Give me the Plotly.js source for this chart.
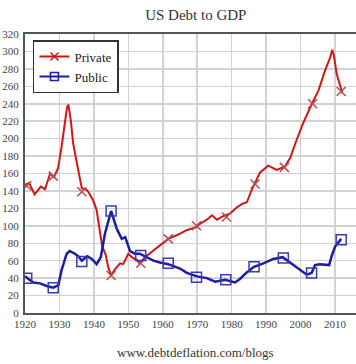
<!DOCTYPE html>
<html><head><meta charset="utf-8">
<script src="https://cdn.plot.ly/plotly-3.0.1.min.js"></script>
<style>html,body{margin:0;padding:0;background:#fff}</style>
</head><body>
<div id="chart" style="width:356px;height:364px"></div>
<script>
// Private debt to GDP (%)
var privateYears = [1920.0,1921.2,1922.8,1924.6,1925.8,1927.3,1928.4,1929.6,1930.6,1931.6,1932.2,1932.6,1933.3,1934.0,1935.2,1936.5,1937.6,1938.4,1939.8,1940.8,1941.8,1942.4,1943.4,1944.2,1945.0,1946.1,1947.6,1948.5,1950.0,1951.0,1952.3,1953.3,1954.8,1957.3,1959.5,1961.6,1964.5,1966.9,1969.5,1970.3,1972.8,1974.3,1975.7,1977.5,1979.5,1981.5,1983.0,1984.4,1985.7,1986.8,1988.2,1990.6,1993.1,1995.5,1997.0,1998.9,2000.8,2003.3,2005.2,2007.1,2008.6,2009.2,2009.7,2010.5,2011.5,2012.1];
var privateValues = [147,149,136,145,142,160,156,166,190,220,236,239,221,194,168,143,142,139,129,118,92,77,67,52,43,50,57,56,68,64,61,57,64,72,79,85,90,95,98,101,107,112,107,111,114,121,125,127,140,149,161,169,164,168,178,199,218,240,255,278,293,302,295,274,259,253];
var privateMarkerYears = [1920.5,1928.2,1936.5,1945.0,1953.6,1961.6,1969.8,1978.5,1986.8,1995.3,2003.5,2011.8];
var privateMarkerValues = [146,157,139,43,57,85,100,110,148,167,240,254];

// Public debt to GDP (%)
var publicYears = [1920.0,1921.4,1922.4,1924.4,1926.3,1928.2,1929.7,1930.6,1932.1,1933.0,1934.5,1935.5,1936.5,1937.4,1938.1,1939.4,1940.8,1942.0,1943.2,1945.0,1946.6,1948.1,1949.1,1950.5,1951.9,1953.3,1955.0,1957.3,1959.2,1961.6,1965.0,1967.0,1969.9,1972.8,1975.2,1978.1,1981.0,1982.4,1984.2,1986.5,1989.2,1992.1,1994.8,1996.9,1999.8,2001.8,2003.2,2004.2,2005.6,2008.3,2009.1,2010.0,2011.8];
var publicValues = [42,38,35,34,31,29,32,49,68,71,68,65,60,63,65,62,56,64,91,117,97,85,87,71,68,68,65,60,58,56,51,46,42,40,36,38,35,39,46,53,57,62,64,58,49,44,46,55,56,55,66,76,85];
var publicMarkerYears = [1920.5,1928.2,1936.5,1945.0,1953.6,1961.6,1969.8,1978.3,1986.5,1995.0,2003.2,2011.8];
var publicMarkerValues = [40,29,59,117,66,57,41,38,53,63,46,84];

var xTicks = [1920,1930,1940,1950,1960,1970,1980,1990,2000,2010];
var yTicks = [0,20,40,60,80,100,120,140,160,180,200,220,240,260,280,300,320];

var RED = '#d41515', BLUE = '#1c1ca8';
var serif = '"Liberation Serif", "Times New Roman", serif';

var traces = [
  {x: privateYears, y: privateValues, mode: 'lines', line: {color: RED, width: 2}, showlegend: false, hoverinfo: 'skip'},
  {x: privateMarkerYears, y: privateMarkerValues, mode: 'markers', marker: {symbol: 'x-thin', size: 9, line: {color: '#b05050', width: 1.5}}, showlegend: false},
  {x: publicYears, y: publicValues, mode: 'lines', line: {color: BLUE, width: 2.5}, showlegend: false, hoverinfo: 'skip'},
  {x: publicMarkerYears, y: publicMarkerValues, mode: 'markers', marker: {symbol: 'square-open', size: 10, color: '#3a3ab0', line: {width: 1.5}}, showlegend: false},
  {x: [null], y: [null], name: 'Private', mode: 'lines+markers', line: {color: RED, width: 2}, marker: {symbol: 'x-thin', size: 8, line: {color: RED, width: 1.5}}},
  {x: [null], y: [null], name: 'Public', mode: 'lines+markers', line: {color: BLUE, width: 2}, marker: {symbol: 'square-open', size: 8, color: BLUE, line: {width: 1.5}}}
];

var layout = {
  width: 356, height: 364,
  margin: {l: 25, r: 0, t: 34, b: 51, pad: 0},
  paper_bgcolor: '#fff', plot_bgcolor: '#fff',
  font: {family: serif, color: '#333', size: 11},
  title: {text: 'US Debt to GDP', font: {family: serif, size: 15, color: '#333'}, xref: 'container', x: 0.55, xanchor: 'center', yref: 'container', y: 0.96, yanchor: 'middle'},
  xaxis: {range: [1920, 2016.1], tickvals: xTicks, ticktext: xTicks.map(String), showgrid: true, gridcolor: '#d2d2d2', gridwidth: 1.5,
          showline: true, linecolor: '#555', linewidth: 2, mirror: true, ticks: '', zeroline: false,
          tickfont: {family: serif, size: 11, color: '#444'}, fixedrange: true},
  yaxis: {range: [0, 320], tickvals: yTicks, ticktext: yTicks.map(String), showgrid: true, gridcolor: '#d2d2d2', gridwidth: 1.5,
          showline: true, linecolor: '#555', linewidth: 2, ticks: '', zeroline: false, ticklabelstandoff: 2,
          tickfont: {family: serif, size: 11, color: '#444'}, fixedrange: true},
  legend: {x: 0.024, y: 0.978, xanchor: 'left', yanchor: 'top', bgcolor: '#fff', bordercolor: '#333', borderwidth: 1.5,
           font: {family: serif, size: 13, color: '#222'}, tracegroupgap: 0, itemwidth: 30},
  annotations: [{text: 'www.debtdeflation.com/blogs', xref: 'paper', yref: 'paper', x: 0.514, y: -0.14, xanchor: 'center', yanchor: 'middle',
                 showarrow: false, font: {family: serif, size: 13, color: '#333'}}],
  showlegend: true
};

Plotly.newPlot('chart', traces, layout, {staticPlot: true, displayModeBar: false});
</script>
</body></html>
